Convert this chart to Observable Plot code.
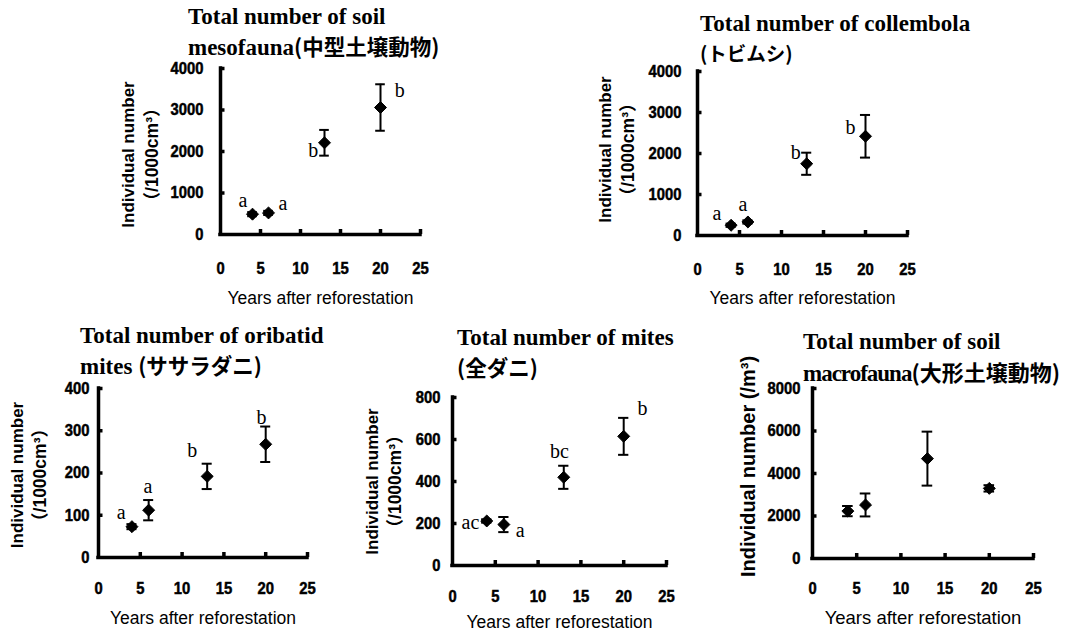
<!DOCTYPE html>
<html><head><meta charset="utf-8">
<script src="https://cdn.jsdelivr.net/npm/d3@7"></script>
<script src="https://cdn.jsdelivr.net/npm/@observablehq/plot@0.6"></script>
<style>
html,body{margin:0;padding:0;background:#fff}
body{width:1083px;height:634px;position:relative;overflow:hidden}
.panel{position:absolute}
.title{position:absolute;font-family:"Liberation Serif","Times New Roman","Noto Sans CJK JP",serif;font-weight:bold;font-size:23px;line-height:28.5px;white-space:nowrap;color:#000}
.title .jp{font-family:"Noto Sans CJK JP",sans-serif;font-weight:bold;font-size:21.5px}
</style></head><body>
<script>
// ---- data ----
const years = [4, 6, 13, 20];
const xTicks = [0, 5, 10, 15, 20, 25];

const mesoMean = [490, 520, 2210, 3060];
const mesoErr = [50, 50, 310, 560];
const mesoLetters = ["a", "a", "b", "b"];
const mesoLetterX = [2.8, 7.8, 11.6, 22.4];
const mesoLetterY = [820, 740, 2020, 3470];
const mesoYTicks = [0, 1000, 2000, 3000, 4000];

const collMean = [250, 330, 1750, 2420];
const collErr = [40, 40, 270, 520];
const collLetters = ["a", "a", "b", "b"];
const collLetterX = [2.3, 5.4, 11.7, 18.2];
const collLetterY = [530, 760, 2030, 2640];
const collYTicks = [0, 1000, 2000, 3000, 4000];

const oribMean = [73, 112, 192, 268];
const oribErr = [6, 24, 30, 42];
const oribLetters = ["a", "a", "b", "b"];
const oribLetterX = [2.7, 5.9, 11.2, 19.5];
const oribLetterY = [107, 169, 252, 332];
const oribYTicks = [0, 100, 200, 300, 400];

const miteMean = [212, 195, 420, 615];
const miteErr = [8, 36, 55, 88];
const miteLetters = ["ac", "a", "bc", "b"];
const miteLetterX = [2.1, 7.9, 12.5, 22.2];
const miteLetterY = [206, 167, 543, 746];
const miteYTicks = [0, 200, 400, 600, 800];

const macroMean = [2230, 2520, 4700, 3300];
const macroErr = [240, 540, 1270, 150];
const macroYTicks = [0, 2000, 4000, 6000, 8000];

const xTitle = "Years after reforestation";
const yTitle1 = "Individual number";
const yTitle2 = "（/1000cm³）";
const yTitleMacro = "Individual number (/m³)";

// ---- drawing ----
const SANS = '"Liberation Sans",Arial,"Noto Sans CJK JP",sans-serif';
const SERIF = '"Liberation Serif","Times New Roman",serif';

function panel(c) {
  const mL = 110, mR = 30, mT = 15, mB = 80;
  const fw = c.x25 - c.x0, fh = c.y0 - c.yTop;
  const yMax = c.yTicks[c.yTicks.length - 1];
  const data = years.map((x, i) => ({x, y: c.mean[i], lo: c.mean[i] - c.err[i], hi: c.mean[i] + c.err[i]}));
  const letters = (c.letters || []).map((t, i) => ({t, x: c.lx[i], y: c.ly[i]}));
  const marks = [
    Plot.axisX(xTicks, {tickSize: 0, tickPadding: c.xPad, tickFormat: d => String(d), fontSize: 17, fontWeight: "bold", fontFamily: SANS, label: null}),
    Plot.axisY(c.yTicks, {tickSize: 0, tickPadding: c.yPad, tickFormat: d => String(d), fontSize: 17, fontWeight: "bold", fontFamily: SANS, label: null}),
    Plot.ruleY([0], {strokeWidth: 3.5, strokeLinecap: "square"}),
    Plot.ruleX([0], {strokeWidth: 3.5, strokeLinecap: "square"}),
    Plot.ruleX(xTicks.slice(1), {y1: 0, y2: yMax * 5 / fh, strokeWidth: 3.5}),
    Plot.ruleY(c.yTicks.slice(1), {x1: 0, x2: 25 * 4.5 / fw, strokeWidth: 3.5}),
    Plot.ruleX(data, {x: "x", y1: "lo", y2: "hi", strokeWidth: 2}),
    Plot.ruleY(data, {y: "lo", x1: d => d.x - 0.6, x2: d => d.x + 0.6, strokeWidth: 2}),
    Plot.ruleY(data, {y: "hi", x1: d => d.x - 0.6, x2: d => d.x + 0.6, strokeWidth: 2}),
    Plot.dot(data, {x: "x", y: "y", symbol: "diamond2", r: 5.4, fill: "black", stroke: "black", strokeWidth: 1}),
    Plot.text(letters, {x: "x", y: "y", text: "t", fontFamily: SERIF, fontSize: 20}),
    Plot.text([xTitle], {frameAnchor: "bottom", lineAnchor: "middle", textAnchor: "middle", dy: c.xTitleDy, fontFamily: SANS, fontSize: c.xTitleSize || 17.5})
  ];
  c.yTitles.forEach(([t, dx, fs]) => marks.push(
    Plot.text([t], {frameAnchor: "left", textAnchor: "middle", lineAnchor: "middle", rotate: -90, dx, dy: c.yTitleDy, fontFamily: SANS, fontWeight: "bold", fontSize: fs})
  ));
  const svg = Plot.plot({
    width: fw + mL + mR, height: fh + mT + mB,
    marginLeft: mL, marginRight: mR, marginTop: mT, marginBottom: mB,
    x: {domain: [0, 25]},
    y: {domain: [0, yMax]},
    style: {background: "transparent", overflow: "visible", color: "black"},
    marks
  });
  const div = document.createElement("div");
  div.className = "panel";
  div.style.left = (c.x0 - mL) + "px";
  div.style.top = (c.yTop - mT) + "px";
  div.appendChild(svg);
  document.body.appendChild(div);
  // slightly condense and embolden tick labels (the reference uses a narrow heavy face)
  svg.querySelectorAll('g[aria-label="x-axis tick label"] text, g[aria-label="y-axis tick label"] text').forEach(t => {
    const w = t.getComputedTextLength();
    t.setAttribute("textLength", (w * 0.87).toFixed(1));
    t.setAttribute("lengthAdjust", "spacingAndGlyphs");
    t.setAttribute("stroke", "black");
    t.setAttribute("stroke-width", "0.5");
  });

  const t = document.createElement("div");
  t.className = "title";
  t.style.left = c.tLeft + "px";
  t.style.top = c.tTop + "px";
  t.innerHTML = c.title;
  document.body.appendChild(t);
}

panel({x0: 220, x25: 420, y0: 234, yTop: 68, yTicks: mesoYTicks, mean: mesoMean, err: mesoErr,
  letters: mesoLetters, lx: mesoLetterX, ly: mesoLetterY, xPad: 27, yPad: 17, xTitleDy: 64, yTitleDy: 3,
  yTitles: [[yTitle1, -92, 17], [yTitle2, -68, 17.5]],
  tLeft: 188, tTop: 3, title: 'Total number of soil<br>mesofauna<span class="jp">(中型土壌動物)</span>'});

panel({x0: 697, x25: 907, y0: 235, yTop: 71, yTicks: collYTicks, mean: collMean, err: collErr,
  letters: collLetters, lx: collLetterX, ly: collLetterY, xPad: 27, yPad: 16, xTitleDy: 63, yTitleDy: -4,
  yTitles: [[yTitle1, -92, 17], [yTitle2, -69, 17.5]],
  tLeft: 700, tTop: 10, title: 'Total number of collembola<br><span class="jp" style="font-size:19.5px">(トビムシ)</span>'});

panel({x0: 98, x25: 307, y0: 557, yTop: 388, yTicks: oribYTicks, mean: oribMean, err: oribErr,
  letters: oribLetters, lx: oribLetterX, ly: oribLetterY, xPad: 24, yPad: 9, xTitleDy: 61, yTitleDy: 2,
  yTitles: [[yTitle1, -81, 17], [yTitle2, -58, 17.5]],
  tLeft: 80, tTop: 322, title: 'Total number of oribatid<br>mites <span class="jp">(ササラダニ)</span>'});

panel({x0: 452, x25: 666, y0: 565, yTop: 397, yTicks: miteYTicks, mean: miteMean, err: miteErr,
  letters: miteLetters, lx: miteLetterX, ly: miteLetterY, xPad: 24, yPad: 12, xTitleDy: 57, yTitleDy: 0,
  yTitles: [[yTitle1, -80, 17], [yTitle2, -57, 17.5]],
  tLeft: 457, tTop: 324, title: 'Total number of mites<br><span class="jp">(全ダニ)</span>'});

panel({x0: 812, x25: 1033, y0: 558, yTop: 388, yTicks: macroYTicks, mean: macroMean, err: macroErr,
  letters: [], lx: [], ly: [], xPad: 23, yPad: 12, xTitleDy: 60, yTitleDy: -7, xTitleSize: 18.5,
  yTitles: [[yTitleMacro, -64, 20]],
  tLeft: 803, tTop: 328, title: 'Total number of soil<br><span style="letter-spacing:-1px">macrofauna</span><span class="jp" style="font-size:22px">(大形土壌動物)</span>'});
</script>
</body></html>
